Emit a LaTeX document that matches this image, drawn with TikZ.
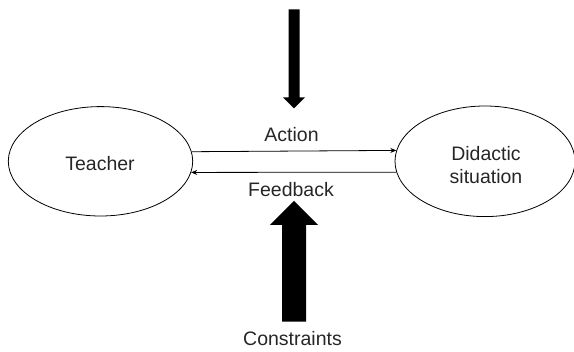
\documentclass[tikz,border=0pt]{standalone}
\usepackage{fontspec}
\setmainfont{Liberation Sans}
\usetikzlibrary{arrows.meta,shapes.geometric}
\begin{document}
\begin{tikzpicture}[x=1pt,y=-1pt,
  ell/.style={draw=black, line width=0.8pt, ellipse, inner sep=0pt},
  lbl/.style={text=black!85, font=\fontsize{19.5}{23}\selectfont, inner sep=0pt, align=center},
  thin arrow/.style={draw=black, line width=0.8pt, -{Stealth[length=6pt,width=5pt]}},
  block/.style={fill=black, draw=none}]
\useasboundingbox (0,0) rectangle (574,352);
\node[ell, minimum width=184.4pt, minimum height=109.4pt] (teacher) at (100.5,161.3) {};
\node[lbl] (teachertxt) at (100,163.3) {Teacher};
\node[ell, minimum width=180pt, minimum height=110.6pt] (situation) at (485,161.3) {};
\node[lbl] (situationtxt) at (486,164.6) {Didactic\\situation};
\draw[thin arrow] (teacher.6) -- (situation.173.8);
\draw[thin arrow] (situation.187.4) -- (teacher.-7.2);
\node[lbl] (action) at (291.5,135) {Action};
\node[lbl] (feedback) at (291,190) {Feedback};
\node[lbl] (constraints) at (292.5,338.3) {Constraints};
% top block arrow
\coordinate (toptip) at (294,108.3);
\fill[block] (288.5,9.3) -- (299.5,9.3) -- (299.5,97.3) -- (305,97.3) -- (toptip) -- (283,97.3) -- (288.5,97.3) -- cycle;
% bottom block arrow
\coordinate (bottip) at (294,201);
\fill[block] (282,321.7) -- (306,321.7) -- (306,225) -- (318,225) -- (bottip) -- (270,225) -- (282,225) -- cycle;
\end{tikzpicture}
\end{document}
